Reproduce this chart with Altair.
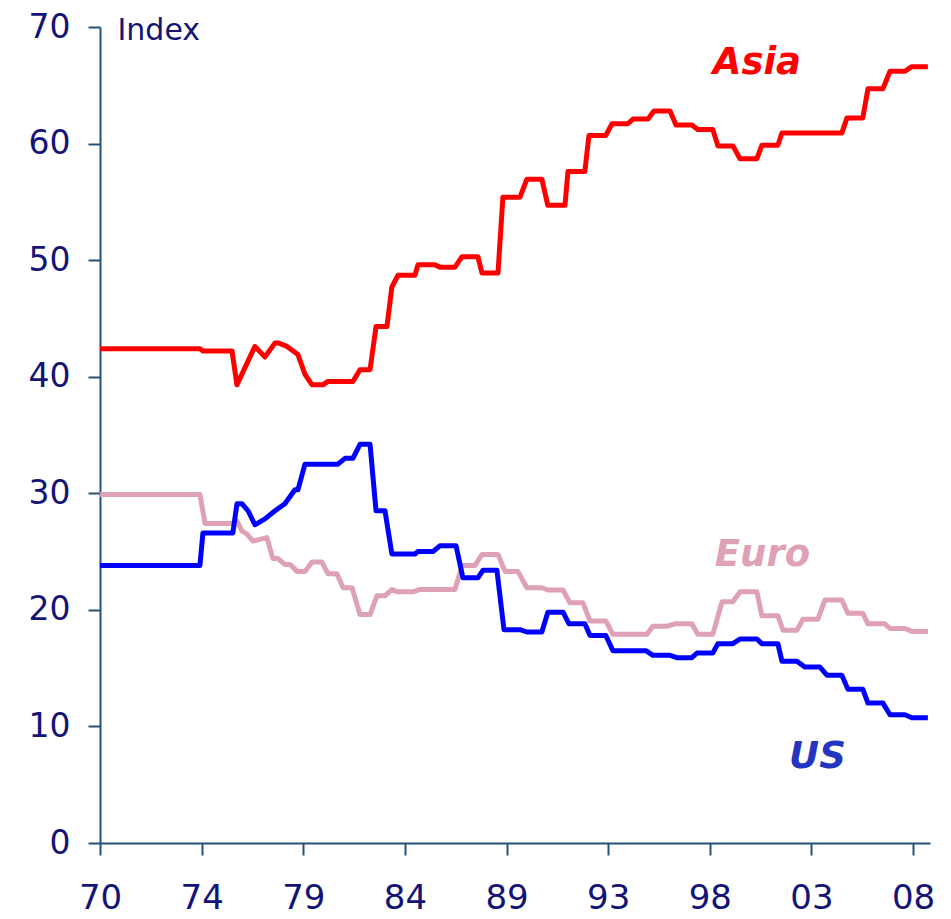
import altair as alt
import pandas as pd

# ---- data (decimal years, index values) ----
asia_year = [1970.00, 1974.67, 1974.81, 1976.17, 1976.40, 1977.24, 1977.71, 1978.18, 1978.32, 1978.74,
             1979.25, 1979.58, 1979.91, 1980.42, 1980.65, 1981.82, 1982.15, 1982.62, 1982.90, 1983.41,
             1983.64, 1983.93, 1984.72, 1984.86, 1985.65, 1985.89, 1986.59, 1986.92, 1987.66, 1987.85,
             1988.60, 1988.83, 1989.63, 1989.95, 1990.65, 1990.93, 1991.73, 1991.87, 1992.66, 1992.85,
             1993.64, 1993.93, 1994.67, 1994.91, 1995.61, 1995.89, 1996.64, 1996.92, 1997.66, 1997.94,
             1998.64, 1998.88, 1999.58, 1999.91, 2000.70, 2000.93, 2001.68, 2001.87, 2004.67, 2004.91,
             2005.65, 2005.89, 2006.59, 2006.92, 2007.62, 2007.94, 2008.69]
asia_value = [42.4, 42.4, 42.2, 42.2, 39.3, 42.6, 41.7, 42.9, 42.9, 42.6,
              41.9, 40.2, 39.3, 39.3, 39.6, 39.6, 40.6, 40.6, 44.3, 44.3,
              47.7, 48.7, 48.7, 49.6, 49.6, 49.4, 49.4, 50.3, 50.3, 48.9,
              48.9, 55.4, 55.4, 56.95, 56.95, 54.7, 54.7, 57.6, 57.6, 60.7,
              60.7, 61.7, 61.7, 62.1, 62.1, 62.8, 62.8, 61.6, 61.6, 61.2,
              61.2, 59.8, 59.8, 58.7, 58.7, 59.85, 59.85, 60.9, 60.9, 62.2,
              62.2, 64.7, 64.7, 66.2, 66.2, 66.6, 66.6]

us_year = [1970.00, 1974.67, 1974.81, 1976.21, 1976.40, 1976.64, 1976.92, 1977.24, 1977.71, 1978.18,
           1978.64, 1979.11, 1979.25, 1979.58, 1981.12, 1981.45, 1981.82, 1982.15, 1982.62, 1982.90,
           1983.32, 1983.64, 1984.72, 1984.86, 1985.56, 1985.89, 1986.64, 1986.96, 1987.66, 1987.90,
           1988.55, 1988.88, 1989.63, 1989.95, 1990.65, 1990.93, 1991.64, 1991.92, 1992.66, 1992.90,
           1993.64, 1993.97, 1995.51, 1995.84, 1996.64, 1996.96, 1997.66, 1997.90, 1998.64, 1998.88,
           1999.58, 1999.91, 2000.70, 2000.93, 2001.68, 2001.87, 2002.57, 2002.94, 2003.64, 2003.97,
           2004.67, 2004.95, 2005.65, 2005.89, 2006.59, 2006.92, 2007.62, 2007.94, 2008.69]
us_value = [23.8, 23.8, 26.6, 26.6, 29.1, 29.1, 28.5, 27.3, 27.8, 28.5,
            29.1, 30.3, 30.3, 32.5, 32.5, 33.0, 33.0, 34.2, 34.2, 28.5,
            28.5, 24.8, 24.8, 25.0, 25.0, 25.5, 25.5, 22.75, 22.75, 23.4,
            23.4, 18.3, 18.3, 18.1, 18.1, 19.8, 19.8, 18.8, 18.8, 17.8,
            17.8, 16.5, 16.5, 16.1, 16.1, 15.9, 15.9, 16.3, 16.3, 17.1,
            17.1, 17.5, 17.5, 17.1, 17.1, 15.6, 15.6, 15.1, 15.1, 14.4,
            14.4, 13.2, 13.2, 12.0, 12.0, 11.0, 11.0, 10.75, 10.75]

euro_year = [1970.00, 1974.67, 1974.91, 1976.17, 1976.40, 1976.64, 1976.87, 1977.15, 1977.80, 1978.08,
             1978.32, 1978.64, 1978.88, 1979.21, 1979.58, 1979.91, 1980.37, 1980.65, 1981.07, 1981.36,
             1981.78, 1982.15, 1982.62, 1982.94, 1983.32, 1983.64, 1983.88, 1984.63, 1984.95, 1986.59,
             1986.92, 1987.52, 1987.85, 1988.60, 1988.93, 1989.53, 1989.95, 1990.65, 1990.93, 1991.64,
             1991.96, 1992.57, 1992.90, 1993.64, 1993.97, 1995.56, 1995.84, 1996.50, 1996.87, 1997.66,
             1997.94, 1998.64, 1999.07, 1999.58, 1999.91, 2000.70, 2000.93, 2001.68, 2001.92, 2002.57,
             2002.85, 2003.55, 2003.88, 2004.67, 2004.95, 2005.65, 2005.89, 2006.68, 2006.92, 2007.62,
             2007.94, 2008.69]
euro_value = [29.9, 29.9, 27.4, 27.4, 27.6, 26.75, 26.5, 25.9, 26.2, 24.4,
              24.4, 23.9, 23.9, 23.3, 23.3, 24.1, 24.1, 23.1, 23.1, 21.9,
              21.9, 19.6, 19.6, 21.2, 21.2, 21.75, 21.55, 21.55, 21.75, 21.75,
              23.8, 23.8, 24.75, 24.75, 23.3, 23.3, 21.9, 21.9, 21.7, 21.7,
              20.6, 20.6, 19.05, 19.05, 17.9, 17.9, 18.6, 18.6, 18.8, 18.8,
              17.9, 17.9, 20.7, 20.7, 21.55, 21.55, 19.5, 19.5, 18.25, 18.25,
              19.2, 19.2, 20.85, 20.85, 19.7, 19.7, 18.8, 18.8, 18.4, 18.4,
              18.15, 18.15]

series_names = ["Asia", "Euro", "US"]
series_colors = ["#FF0000", "#DFA1B5", "#0000FF"]

label_text = ["Asia", "Euro", "US"]
label_year = [2000.70, 2000.96, 2003.53]
label_value = [66.9, 24.7, 7.4]
label_color = ["#FF0000", "#DFA1B5", "#2436C0"]

x_ticks = [1970.0, 1974.75, 1979.5, 1984.25, 1989.0, 1993.75, 1998.5, 2003.25, 2008.0]
y_ticks = [0, 10, 20, 30, 40, 50, 60, 70]

# ---- build tables ----
rows = []
for name, yrs, vals in [("Asia", asia_year, asia_value),
                        ("Euro", euro_year, euro_value),
                        ("US", us_year, us_value)]:
    for i, (yr, v) in enumerate(zip(yrs, vals)):
        rows.append({"series": name, "year": yr, "value": v, "order": i})
df = pd.DataFrame(rows)

labels = pd.DataFrame({"text": label_text, "year": label_year,
                       "value": label_value, "color": label_color})

FONT = "DejaVu Sans"
AXIS_COLOR = "#23507A"
LABEL_COLOR = "#141478"

x_scale = alt.Scale(domain=[1970, 2008.79], nice=False, zero=False)
y_scale = alt.Scale(domain=[0, 70], nice=False)

x_axis = alt.Axis(values=x_ticks, grid=False, domainColor=AXIS_COLOR, domainWidth=2,
                  tickColor=AXIS_COLOR, tickWidth=2, tickSize=12,
                  labelFont=FONT, labelFontSize=34, labelColor=LABEL_COLOR,
                  labelPadding=26, labelFlush=False, labelOverlap=False,
                  labelExpr="slice('0' + (floor(datum.value) % 100), -2)",
                  title=None)

y_axis = alt.Axis(values=y_ticks, grid=False, domainColor=AXIS_COLOR, domainWidth=2,
                  tickColor=AXIS_COLOR, tickWidth=2, tickSize=12,
                  labelFont=FONT, labelFontSize=33, labelColor=LABEL_COLOR,
                  labelPadding=18, labelFlush=False,
                  title="Index", titleAngle=0, titleFont=FONT, titleFontSize=30,
                  titleFontWeight="normal", titleColor=LABEL_COLOR,
                  titleAlign="left", titleBaseline="alphabetic",
                  titleX=17, titleY=12)

lines = alt.Chart(df).mark_line(strokeWidth=5, strokeJoin="round").encode(
    x=alt.X("year:Q", scale=x_scale, axis=x_axis),
    y=alt.Y("value:Q", scale=y_scale, axis=y_axis),
    color=alt.Color("series:N", scale=alt.Scale(domain=series_names, range=series_colors),
                    legend=None),
    order="order:Q",
)

texts = alt.Chart(labels).mark_text(font=FONT, fontSize=37, fontWeight="bold",
                                    fontStyle="italic", align="center",
                                    baseline="middle").encode(
    x=alt.X("year:Q", scale=x_scale),
    y=alt.Y("value:Q", scale=y_scale),
    text="text:N",
    color=alt.Color("color:N", scale=None),
)

chart = alt.layer(lines, texts).properties(
    width=830, height=816,
    autosize=alt.AutoSizeParams(type="none"),
    padding={"left": 92, "top": 19, "right": 12, "bottom": 80},
    background="white",
).configure_view(stroke=None)

chart.save("out.html", embed_options={"renderer": "svg", "actions": False})
